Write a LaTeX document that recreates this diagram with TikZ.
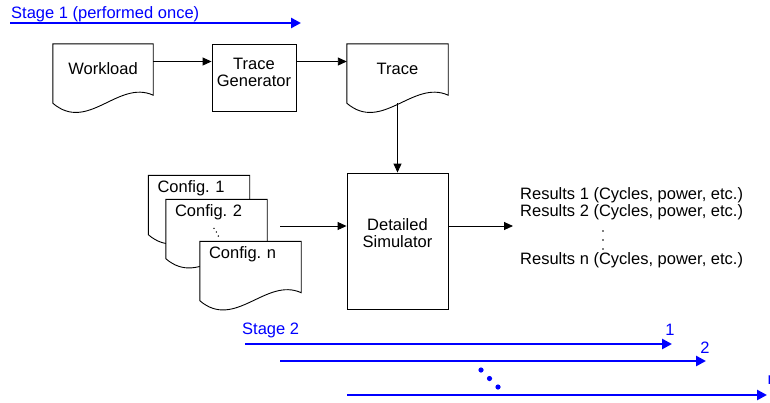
\documentclass[tikz,border=0pt]{standalone}
\usepackage{fontspec}
\setmainfont{Liberation Sans}
\usetikzlibrary{arrows.meta}
\definecolor{stageblue}{RGB}{0,0,255}
\tikzset{
  docline/.style={line width=0.9pt, fill=white},
  docbox/.style={inner sep=0pt, minimum width=100pt, minimum height=59pt,
    text height=12pt, text depth=11pt,
    append after command={\pgfextra{\draw[docline]
      (\tikzlastnode.south west) -- (\tikzlastnode.north west) -- (\tikzlastnode.north east)
      -- ([yshift=8pt]\tikzlastnode.south east)
      .. controls ([xshift=-35pt,yshift=24pt]\tikzlastnode.south east)
      and ([xshift=35pt,yshift=-30pt]\tikzlastnode.south west) .. (\tikzlastnode.south west)
      -- cycle;}}},
  configdoc/.style={docbox, minimum width=101pt, text width=83pt, align=left, text depth=37pt},
  procbox/.style={draw, fill=white, line width=0.9pt, inner sep=0pt, align=center},
  flow/.style={line width=0.9pt, -{Triangle[length=9pt,width=8pt]}},
  stagearrow/.style={stageblue, line width=2.6pt, -{Triangle[length=10pt,width=10pt]}},
  stagetext/.style={stageblue, inner sep=0pt}
}
\begin{document}
\begin{tikzpicture}[x=1pt,y=-1pt,font=\fontsize{16.5}{17}\selectfont]
\useasboundingbox (0,0) rectangle (770,402);
% stage 1
\node[stagetext, anchor=west] (stage1) at (11,14) {Stage 1 (performed once)};
\coordinate (s1start) at (10,23);
\coordinate (s1end) at (301,23);
\draw[stagearrow] (s1start) -- (s1end);
% trace generation
\node[docbox] (workload) at (103,73.5) {Workload};
\node[procbox, minimum width=84pt, minimum height=67pt, text depth=10pt] (tracegen) at (254,77.5) {Trace\\Generator};
\node[docbox, minimum width=101pt] (trace) at (397.5,73.5) {Trace};
\node[procbox, minimum width=101pt, minimum height=136pt, text depth=15pt] (sim) at (397.5,241) {Detailed\\Simulator};
\coordinate (row1) at (0,61.5);
\draw[flow] (workload.east |- row1) -- (tracegen.west |- row1);
\draw[flow] (tracegen.east |- row1) -- (trace.west |- row1);
\draw[flow] (trace.south) -- (sim.north);
% configurations
\node[configdoc] (config1) at (199,205) {Config.\ 1};
\node[configdoc] (config2) at (216.5,229) {Config.\ 2};
\foreach \px/\py in {214/228.3, 216.4/232, 218.3/236}
  \fill (\px,\py) circle (0.8pt);
\node[configdoc] (confign) at (250.5,271) {Config.\ n};
\coordinate (cfgout) at (280,226);
\draw[flow] (cfgout) -- (cfgout -| sim.west);
% results
\node[align=left, inner xsep=7pt, inner ysep=0pt, anchor=west] (results) at (513,228)
  {Results 1 (Cycles, power, etc.)\\Results 2 (Cycles, power, etc.)\\[31pt]Results n (Cycles, power, etc.)};
\foreach \py in {231,240,249}
  \fill (603,\py) circle (0.9pt);
\draw[flow] (cfgout -| sim.east) -- (cfgout -| results.west);
% stage 2 runs
\node[stagetext, anchor=west] (stage2) at (242,330) {Stage 2};
\coordinate (run1s) at (245,344);
\coordinate (run1e) at (672,344);
\coordinate (run2s) at (280,361);
\coordinate (run2e) at (706,361);
\coordinate (runns) at (347,395);
\coordinate (runne) at (767,395);
\draw[stagearrow] (run1s) -- (run1e);
\draw[stagearrow] (run2s) -- (run2e);
\draw[stagearrow] (runns) -- (runne);
\node[stagetext] (lab1) at (670,330) {1};
\node[stagetext] (lab2) at (705,348) {2};
\node[stagetext, anchor=west] (labn) at (767.5,380) {n};
\foreach \px/\py in {481/370, 489.5/378.5, 498/387}
  \fill[stageblue] (\px,\py) circle (2.6pt);
\end{tikzpicture}
\end{document}
